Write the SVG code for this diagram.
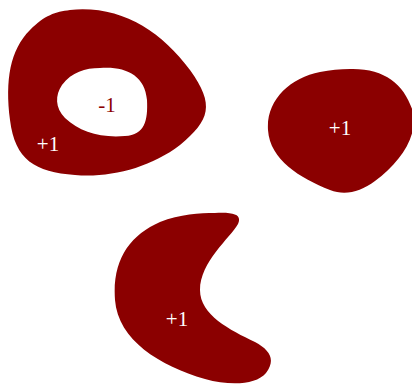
<svg xmlns="http://www.w3.org/2000/svg" width="412" height="385" viewBox="0 0 412 385">
<style>
.blob{fill:#8b0000;fill-rule:evenodd;stroke:none}
.lbl{font-family:"Liberation Serif","Times New Roman",serif;font-size:21px;text-anchor:middle;fill:#ffffff}
.neg{fill:#8b0000}
</style>
<rect width="412" height="385" fill="#ffffff"/>
<g id="region-ring">
<path class="blob" d="M 70 10 C 120 5, 160 30, 190 70 C 215 105, 210 120, 180 145 C 150 168, 110 178, 75 175 C 35 172, 15 160, 10 120 C 5 80, 10 50, 30 30 C 45 15, 55 12, 70 10 Z M 100 68 C 125 66, 145 75, 147 100 C 148 120, 145 135, 125 136 C 100 138, 80 132, 65 118 C 55 108, 55 95, 62 85 C 72 72, 85 68, 100 68 Z"/>
<text class="lbl" x="48" y="151">+1</text>
<text class="lbl neg" x="107" y="112">-1</text>
</g>
<g id="region-blob">
<path class="blob" d="M 350 69 C 385 68, 405 85, 413 112 C 418 137, 400 162, 375 181 C 360 192, 345 196, 330 190 C 300 178, 270 160, 268 130 C 266 100, 290 78, 320 72 C 330 70, 340 69, 350 69 Z"/>
<text class="lbl" x="340" y="135">+1</text>
</g>
<g id="region-crescent">
<path class="blob" d="M 215 213 C 235 212, 242 215, 238 224 C 230 238, 200 262, 200 290 C 200 315, 230 330, 255 342 C 270 350, 276 360, 266 373 C 256 385, 230 386, 205 379 C 160 366, 118 340, 115 300 C 112 260, 130 235, 160 222 C 180 214, 200 213, 215 213 Z"/>
<text class="lbl" x="177" y="326">+1</text>
</g>
<g id="connectors"></g>
</svg>
